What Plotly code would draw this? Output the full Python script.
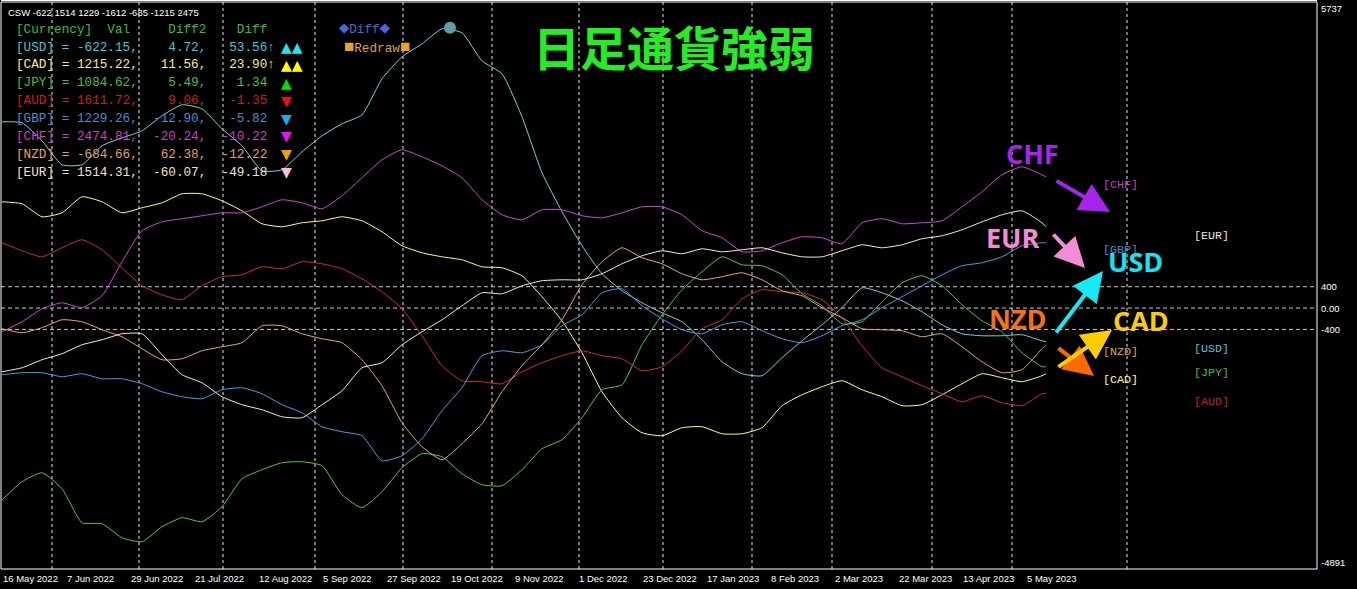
import plotly.graph_objects as go

# ---------------- data ----------------
BARS = list(range(0, 261, 5)) + [261]   # daily bar index, 0 = 16 May 2022

USD = [3491, 3473, 3135, 2685, 2685, 3042, 3191, 3323, 3604, 3810, 3735, 3360, 3042, 2573, 2592, 2929, 3229, 3454,
       3622, 4297, 4709, 4953, 5234, 5159, 4634, 4391, 3585, 2536, 1805, 1168, 643, 324, 99, -88, -257, -594, -1006,
       -1231, -1269, -931, -613, -313, 6, 380, 287, 137, -69, -313, -482, -519, -519, -500, -613, -632]
GBP = [-1250, -1212, -1212, -1287, -1231, -1325, -1325, -1419, -1569, -1662, -1700, -1531, -1494, -1606, -1812, -1962,
       -2224, -2318, -2393, -2862, -2768, -2449, -1925, -1494, -894, -800, -838, -688, -332, -126, 287, 362, 43, -201,
       -407, -482, -313, -257, -425, -575, -650, -519, -332, -219, 6, 212, 418, 624, 793, 849, 961, 1168, 1224, 1224]
CHF = [-444, -257, -13, 99, 6, 231, 868, 1449, 1617, 1674, 1730, 1786, 1786, 1898, 2030, 1973, 1861, 2105, 2442, 2779,
       2967, 2835, 2667, 2442, 2030, 1748, 1655, 1842, 1842, 1730, 1692, 1786, 1898, 1898, 1748, 1449, 1317, 1055, 1074,
       1224, 1336, 1317, 1205, 1599, 1674, 1580, 1599, 1636, 1898, 2179, 2498, 2648, 2498, 2461]
EUR = [-1194, -1119, -969, -856, -688, -594, -482, -482, -875, -1250, -1400, -1662, -1812, -1906, -2037, -2056, -1812,
       -1550, -1119, -1025, -688, -444, -219, 43, 287, 268, 418, 512, 530, 530, 643, 830, 980, 1074, 1018, 1111, 1055,
       1093, 1130, 1036, 961, 961, 1074, 1186, 1130, 1186, 1299, 1355, 1467, 1617, 1748, 1823, 1599, 1524]
CAD = [1992, 1955, 1711, 1786, 2086, 1992, 1786, 1880, 1973, 2142, 2142, 2011, 1823, 1580, 1524, 1599, 1636, 1711, 1636,
       1430, 1168, 1036, 961, 905, 774, 755, 605, 212, -238, -838, -1569, -2056, -2337, -2393, -2243, -2224, -2356,
       -2356, -2243, -1831, -1625, -1475, -1362, -1531, -1662, -1831, -1812, -1625, -1419, -1231, -1306, -1381, -1269,
       -1231]
AUD = [1224, 1074, 961, 1130, 1280, 1093, 755, 418, 249, 156, 418, 587, 624, 774, 736, 868, 830, 736, 549, 305, -13,
       -519, -1081, -1362, -1381, -1419, -1194, -1025, -894, -800, -894, -950, -1175, -1100, -800, -388, -219, 174, 343,
       305, 287, 156, -182, -707, -1119, -1287, -1456, -1606, -1756, -1644, -1775, -1831, -1606, -1606]
JPY = [-3593, -3255, -3087, -3386, -4024, -4042, -4305, -4380, -4099, -3930, -4005, -3724, -3199, -3030, -2899, -2880,
       -2955, -3499, -3742, -3443, -2993, -2730, -2787, -3105, -3311, -3330, -3030, -2637, -2468, -2056, -1531, -1437,
       -688, -126, 343, 680, 961, 811, 793, 624, 268, 43, -294, -257, 118, 474, 605, 418, 62, -238, -444, -838, -1100,
       -1100]
NZD = [-388, -463, -369, -219, -257, -407, -538, -763, -969, -950, -800, -725, -650, -332, -332, -482, -575, -650, -969,
       -1456, -2150, -2599, -2843, -2543, -2168, -1569, -1081, -688, -219, 437, 868, 1130, 943, 830, 643, 530, 587, 662,
       530, 324, 231, 6, -182, -388, -407, -425, -538, -482, -725, -1006, -1212, -1156, -763, -688]

USD_PEAK_BAR, USD_PEAK_VAL = 112, 5253

CURRENCIES = ["USD", "CAD", "JPY", "AUD", "GBP", "CHF", "NZD", "EUR"]
SERIES = {"USD": USD, "CAD": CAD, "JPY": JPY, "AUD": AUD, "GBP": GBP, "CHF": CHF, "NZD": NZD, "EUR": EUR}

X_LABELS = ["16 May 2022", "7 Jun 2022", "29 Jun 2022", "21 Jul 2022", "12 Aug 2022", "5 Sep 2022", "27 Sep 2022",
            "19 Oct 2022", "9 Nov 2022", "1 Dec 2022", "23 Dec 2022", "17 Jan 2023", "8 Feb 2023", "2 Mar 2023",
            "22 Mar 2023", "13 Apr 2023", "5 May 2023"]
X_LABEL_BARS = list(range(0, 257, 16))
MONTH_GRID_BARS = [12.5, 34.25, 55.25, 78.25, 100.25, 122.5, 144.25, 165.25, 187.5, 207.5, 232.5, 252.5, 281.25]
Y_LEVELS = [400, 0, -400]
Y_MIN, Y_MAX = -4891, 5737
Y_LABEL_VALS = [5737, 400, 0, -400, -4891]
Y_LABEL_TEXT = ["5737", "400", "0.00", "-400", "-4891"]

HEADER = "CSW -622 1514 1229 -1612 -685 -1215 2475"
TABLE_HEAD = "[Currency]  Val     Diff2    Diff"
TABLE_ROWS = [
    "[USD] = -622.15,    4.72,   53.56\u2191",
    "[CAD] = 1215.22,   11.56,   23.90\u2191",
    "[JPY] = 1084.62,    5.49,    1.34",
    "[AUD] = 1611.72,    9.06,   -1.35",
    "[GBP] = 1229.26,  -12.90,   -5.82",
    "[CHF] = 2474.81,  -20.24,  -10.22",
    "[NZD] = -684.66,   62.38,  -12.22",
    "[EUR] = 1514.31,  -60.07,  -49.18",
]
TABLE_MARKS = ["\u25B2\u25B2", "\u25B2\u25B2", "\u25B2", "\u25BC", "\u25BC", "\u25BC", "\u25BC", "\u25BC"]

# ---------------- styles ----------------
LINE_COL = {"USD": "#6ed6dc", "CAD": "#ffff70", "JPY": "#48c848", "AUD": "#d42828",
            "GBP": "#3aa2e8", "CHF": "#d640dc", "NZD": "#e8a860", "EUR": "#ffe4d8"}
TEXT_COL = {"USD": "#40c8da", "CAD": "#f4f080", "JPY": "#40c040", "AUD": "#c42020",
            "GBP": "#3c90d0", "CHF": "#c640c6", "NZD": "#e0a060", "EUR": "#f0e0d0"}
MARK_COL = {"USD": "#22e4f2", "CAD": "#ffff00", "JPY": "#00e000", "AUD": "#e81010",
            "GBP": "#10b0f0", "CHF": "#f010f0", "NZD": "#f0a010", "EUR": "#ffc0cb"}

W, H = 1357, 589
ML, MR, MT, MB = 1, 40, 2, 20
PW, PH = W - ML - MR, H - MT - MB


def px(x):
    return (x - ML) / PW


def py(y):
    return (H - MB - y) / PH


MONO = "Liberation Mono, DejaVu Sans Mono, monospace"
SANS = "Liberation Sans, Arial, sans-serif"
BOLD = "Open Sans, Noto Sans, sans-serif"

fig = go.Figure()

for c in CURRENCIES:
    fig.add_trace(go.Scatter(x=BARS, y=SERIES[c], mode="lines", name=c,
                             line=dict(color=LINE_COL[c], width=1, shape="spline", smoothing=0.5),
                             hoverinfo="skip", showlegend=False))

fig.add_trace(go.Scatter(x=[USD_PEAK_BAR], y=[USD_PEAK_VAL], mode="markers",
                         marker=dict(size=12, color="#5f9ea0"), hoverinfo="skip", showlegend=False))

shapes = []
for b in MONTH_GRID_BARS:
    shapes.append(dict(type="line", xref="x", yref="paper", x0=b, x1=b, y0=0, y1=1, layer="below",
                       line=dict(color="#e8e8e8", width=1, dash="3px,3px")))
for v in Y_LEVELS:
    shapes.append(dict(type="line", xref="paper", yref="y", x0=0, x1=1, y0=v, y1=v, layer="below",
                       line=dict(color="#c8c8c8", width=1, dash="4px,3px")))
shapes.append(dict(type="rect", xref="paper", yref="paper", x0=0, x1=1, y0=0, y1=1,
                   line=dict(color="#ffffff", width=1)))
shapes.append(dict(type="line", xref="paper", yref="paper", x0=0, x1=1, y0=py(0.5), y1=py(0.5),
                   line=dict(color="#ffffff", width=1)))

ann = []


def text(x, y, s, color, size, family, xanchor="left", yanchor="middle", xref="paper", yref="paper"):
    ann.append(dict(x=x, y=y, xref=xref, yref=yref, text=s, showarrow=False, xanchor=xanchor,
                    yanchor=yanchor, font=dict(color=color, size=size, family=family), borderpad=0))


# x-axis labels
for b, lab in zip(X_LABEL_BARS, X_LABELS):
    text(b, py(578), lab, "#ffffff", 9.5, SANS, xref="x")
# right axis labels
for v, lab in zip(Y_LABEL_VALS, Y_LABEL_TEXT):
    ya = "top" if v == Y_MAX else ("bottom" if v == Y_MIN else "middle")
    ann.append(dict(x=1, y=v, xref="paper", yref="y", text=lab, showarrow=False, xanchor="left",
                    yanchor=ya, xshift=3, font=dict(color="#ffffff", size=9.5, family=SANS), borderpad=0))

# info block
text(px(7), py(12), HEADER, "#ffffff", 9.5, SANS)
text(px(15), py(29), TABLE_HEAD, "#30c030", 12.7, MONO)
for i, c in enumerate(CURRENCIES):
    yy = 47 + i * 17.9
    text(px(15), py(yy), TABLE_ROWS[i], TEXT_COL[c], 12.7, MONO)
    text(px(280), py(yy), TABLE_MARKS[i], MARK_COL[c], 14, "DejaVu Sans")

text(px(338), py(28), '<span style="font-size:17px">\u25C6</span>Diff<span style="font-size:17px">\u25C6</span>',
     "#4a68e0", 12.7, MONO)
text(px(343), py(47), '<span style="color:#e8a428;font-size:17px">\u25A0</span>Redraw'
     '<span style="color:#e8a428;font-size:17px">\u25A0</span>', "#d8a048", 12.7, MONO)

# title
text(px(674), py(45), "<b>日足通貨強弱</b>", "#22ee22", 47, "Noto Sans CJK JP", xanchor="center")

# right side bracket labels
RIGHT_LABELS = [("CHF", 1102, 185), ("GBP", 1102, 250), ("NZD", 1102, 352), ("CAD", 1102, 380),
                ("EUR", 1193, 236), ("USD", 1193, 349), ("JPY", 1193, 373), ("AUD", 1193, 402)]
for c, x, y in RIGHT_LABELS:
    text(px(x), py(y), "[" + c + "]", TEXT_COL[c] if c != "CAD" else "#ffff90", 11.7, MONO)

# big labels and arrows
BIG = [("CHF", 1032, 153, "#a624ee"), ("EUR", 1013, 237, "#f28cd6"), ("USD", 1135, 261, "#14e4f0"),
       ("NZD", 1018, 318, "#f87010"), ("CAD", 1141, 320, "#ffcc00")]
for s, x, y, col in BIG:
    text(px(x), py(y), "<b>" + s + "</b>", col, 27, BOLD, xanchor="center")

ARROWS = [((1055, 180), (1110, 212), "#a624ee"), ((1052, 233), (1085, 268), "#f28cd6"),
          ((1055, 334), (1103, 271), "#14eaf6"), ((1057, 347), (1094, 376), "#fc6a00"),
          ((1057, 368), (1112, 330), "#ffcc00")]
for (tx, ty), (hx, hy), col in ARROWS:
    ann.append(dict(x=px(hx), y=py(hy), xref="paper", yref="paper", ax=tx - hx, ay=ty - hy,
                    axref="pixel", ayref="pixel", text="", showarrow=True, arrowhead=2, arrowsize=1.5,
                    arrowwidth=4, arrowcolor=col, standoff=0, startstandoff=0))

fig.update_layout(
    width=W, height=H, margin=dict(l=ML, r=MR, t=MT, b=MB, pad=0),
    paper_bgcolor="#000000", plot_bgcolor="#000000",
    xaxis=dict(range=[-0.25, 328.75], visible=False, fixedrange=True),
    yaxis=dict(range=[Y_MIN, Y_MAX], visible=False, fixedrange=True),
    shapes=shapes, annotations=ann, showlegend=False,
)

fig.write_html("out.html", config={"displayModeBar": False},
               post_script="document.body.style.margin='0';document.body.style.padding='0';"
                           "document.body.style.overflow='hidden';document.body.style.background='#000';")
